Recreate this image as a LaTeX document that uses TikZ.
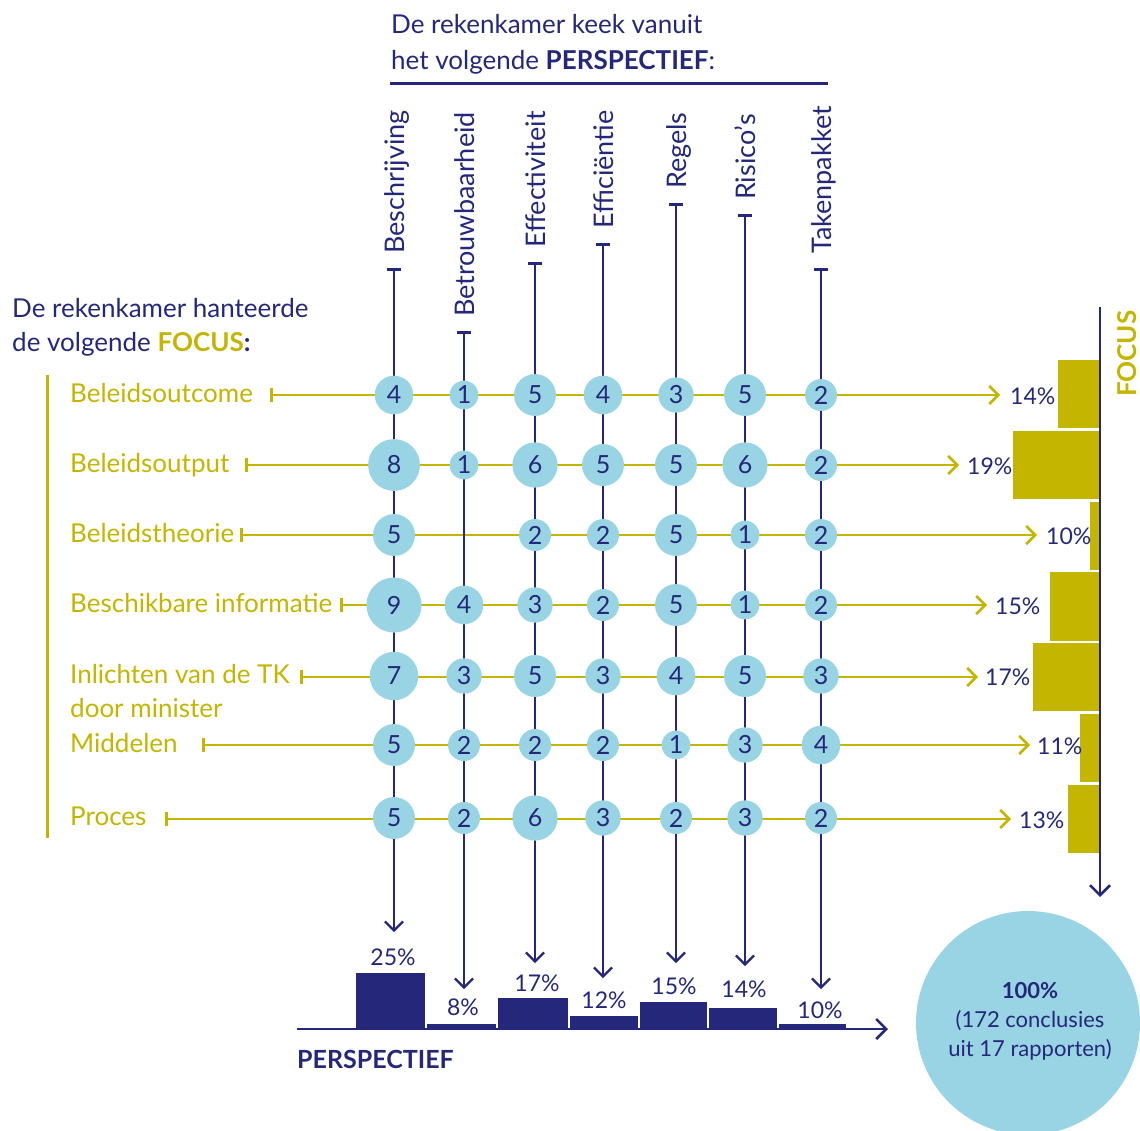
\documentclass[tikz,border=0pt]{standalone}
\usepackage{fontspec}
\setmainfont{Lato}
\usetikzlibrary{arrows.meta}
\definecolor{navy}{RGB}{37,40,122}
\definecolor{olive}{RGB}{196,181,0}
\definecolor{lblue}{RGB}{152,212,227}
\newcommand\myfs[2]{\fontsize{#1}{#2}\selectfont}
\begin{document}
\begin{tikzpicture}[x=1pt,y=-1pt,
  rowlabel/.style={text=olive, font=\myfs{26}{34}, anchor=base west, inner sep=0},
  collabel/.style={text=navy, font=\myfs{27}{32}, rotate=90, anchor=base west, inner sep=0},
  rowline/.style={olive, line width=2.6pt, {Bar[width=14pt,line width=3pt]}-{Straight Barb[length=9pt,width=18pt]}},
  colline/.style={navy, line width=2.3pt, {Bar[width=14pt,line width=3pt]}-{Straight Barb[length=9pt,width=18pt]}},
  axis/.style={navy, line width=2.6pt, -{Straight Barb[length=10pt,width=20pt]}},
  dot/.style={circle, fill=lblue, text=navy, inner sep=0, font=\myfs{25}{25}},
  pct/.style={text=navy, font=\myfs{23}{23}, inner sep=0},
  fbar/.style={fill=olive, draw=white, line width=1.5pt},
  pbar/.style={fill=navy, draw=white, line width=1.5pt},
  titletext/.style={text=navy, font=\myfs{26}{36}, anchor=base west, inner sep=0}
]
\useasboundingbox (0,0) rectangle (1140,1130);

% titles
\node[titletext] (title1) at (391,33) {De rekenkamer keek vanuit};
\node[titletext] (title2) at (391,69) {het volgende \textbf{PERSPECTIEF}:};
\coordinate (ul1) at (390,83); \coordinate (ul2) at (828,83);
\draw[navy, line width=3pt] (ul1) -- (ul2);
\node[titletext] (ftitle1) at (12,317) {De rekenkamer hanteerde};
\node[titletext] (ftitle2) at (12,351) {de volgende \textbf{\textcolor{olive}{FOCUS}:}};

% left olive bar
\coordinate (lb1) at (47,375); \coordinate (lb2) at (47,838);
\draw[olive, line width=3pt] (lb1) -- (lb2);

% row labels
\node[rowlabel] (rl1) at (70,402) {Beleidsoutcome};
\node[rowlabel] (rl2) at (70,472) {Beleidsoutput};
\node[rowlabel] (rl3) at (70,542) {Beleidstheorie};
\node[rowlabel] (rl4) at (70,612) {Beschikbare informatie};
\node[rowlabel] (rl5) at (70,683) {Inlichten van de TK};
\node[rowlabel] (rl5b) at (70,717) {door minister};
\node[rowlabel] (rl6) at (70,752) {Middelen};
\node[rowlabel] (rl7) at (70,825) {Proces};

% row line coordinates
\foreach \i/\sx/\y/\ex in {1/270/395/1000, 2/245/465/959, 3/240/535/1037, 4/340/605/987, 5/300/677/978, 6/202/745/1030, 7/165/819/1011}{
  \coordinate (rt\i) at (\sx,\y);
  \coordinate (re\i) at (\ex,\y);
}
% column coordinates
\foreach \j/\x/\sy/\ey in {1/394/268/932, 2/464/331/989, 3/535/262/963, 4/603/243/978, 5/676/203/963, 6/745/214/966, 7/821/268/989}{
  \coordinate (ct\j) at (\x,\sy);
  \coordinate (ce\j) at (\x,\ey);
}

% column labels
\node[collabel] (cl1) at (404,254) {Beschrijving};
\node[collabel] (cl2) at (474,317) {Betrouwbaarheid};
\node[collabel] (cl3) at (545,248) {Effectiviteit};
\node[collabel] (cl4) at (613,229) {Efficiëntie};
\node[collabel] (cl5) at (686,189) {Regels};
\node[collabel] (cl6) at (755,200) {Risico’s};
\node[collabel] (cl7) at (831,254) {Takenpakket};

% right bars
\filldraw[fbar] (1057,359) rectangle (1100,429);
\filldraw[fbar] (1012,430) rectangle (1100,500);
\filldraw[fbar] (1089,501) rectangle (1100,571);
\filldraw[fbar] (1049,571) rectangle (1100,642);
\filldraw[fbar] (1032,642) rectangle (1100,712);
\filldraw[fbar] (1079,713) rectangle (1100,783);
\filldraw[fbar] (1067,784) rectangle (1100,854);

% bottom bars
\filldraw[pbar] (355,972) rectangle (426,1030);
\filldraw[pbar] (426,1023) rectangle (497,1030);
\filldraw[pbar] (497,997) rectangle (569,1030);
\filldraw[pbar] (569,1015) rectangle (639,1030);
\filldraw[pbar] (639,1001) rectangle (708,1030);
\filldraw[pbar] (708,1007) rectangle (778,1030);
\filldraw[pbar] (778,1023) rectangle (847,1030);

% axes
\coordinate (fa1) at (1100,307); \coordinate (fa2) at (1100,897);
\draw[axis] (fa1) -- (fa2);
\coordinate (pa1) at (297,1029); \coordinate (pa2) at (888,1029);
\draw[axis] (pa1) -- (pa2);

% grid lines
\foreach \i in {1,...,7} \draw[rowline] (rt\i) -- (re\i);
\foreach \j in {1,...,7} \draw[colline] (ct\j) -- (ce\j);

% circles
\foreach \r/\ry/\vals in {1/395/{4,1,5,4,3,5,2}, 2/465/{8,1,6,5,5,6,2}, 3/535/{5,0,2,2,5,1,2}, 4/605/{9,4,3,2,5,1,2}, 5/676/{7,3,5,3,4,5,3}, 6/745/{5,2,2,2,1,3,4}, 7/818/{5,2,6,3,2,3,2}}{
  \foreach \v [count=\c] in \vals {
    \ifnum\v>0
      \pgfmathsetmacro\xx{{394,464,535,603,676,745,821}[\c-1]}
      \pgfmathsetmacro\dd{2*(12.7+1.65*\v)}
      \node[dot, minimum size=\dd pt] (c\r\c) at (\xx,\ry) {\v};
    \fi
  }
}

% right percentages
\node[pct, anchor=base west] (fp1) at (1010,404) {14\%};
\node[pct, anchor=base west] (fp2) at (967,474) {19\%};
\node[pct, anchor=base west] (fp3) at (1046,544) {10\%};
\node[pct, anchor=base west] (fp4) at (995,614) {15\%};
\node[pct, anchor=base west] (fp5) at (985,685) {17\%};
\node[pct, anchor=base west] (fp6) at (1037,754) {11\%};
\node[pct, anchor=base west] (fp7) at (1019,828) {13\%};

% bottom percentages
\node[pct, anchor=base] (pp1) at (393,965) {25\%};
\node[pct, anchor=base] (pp2) at (463,1015) {8\%};
\node[pct, anchor=base] (pp3) at (537,991) {17\%};
\node[pct, anchor=base] (pp4) at (604,1008) {12\%};
\node[pct, anchor=base] (pp5) at (674,994) {15\%};
\node[pct, anchor=base] (pp6) at (744,997) {14\%};
\node[pct, anchor=base] (pp7) at (820,1018) {10\%};

% axis titles
\node[text=olive, font=\bfseries\myfs{26}{26}, rotate=90, anchor=base west, inner sep=0] (focus) at (1136,397) {FOCUS};
\node[text=navy, font=\bfseries\myfs{25}{25}, anchor=base west, inner sep=0] (persp) at (297,1068) {PERSPECTIEF};

% total circle
\node[circle, fill=lblue, minimum size=224pt, inner sep=0] (total) at (1028,1023) {};
\node[text=navy, align=center, font=\myfs{22}{29}, inner sep=0] (totaltext) at (1030,1021) {\textbf{100\%}\\(172 conclusies\\uit 17 rapporten)};
\end{tikzpicture}
\end{document}
